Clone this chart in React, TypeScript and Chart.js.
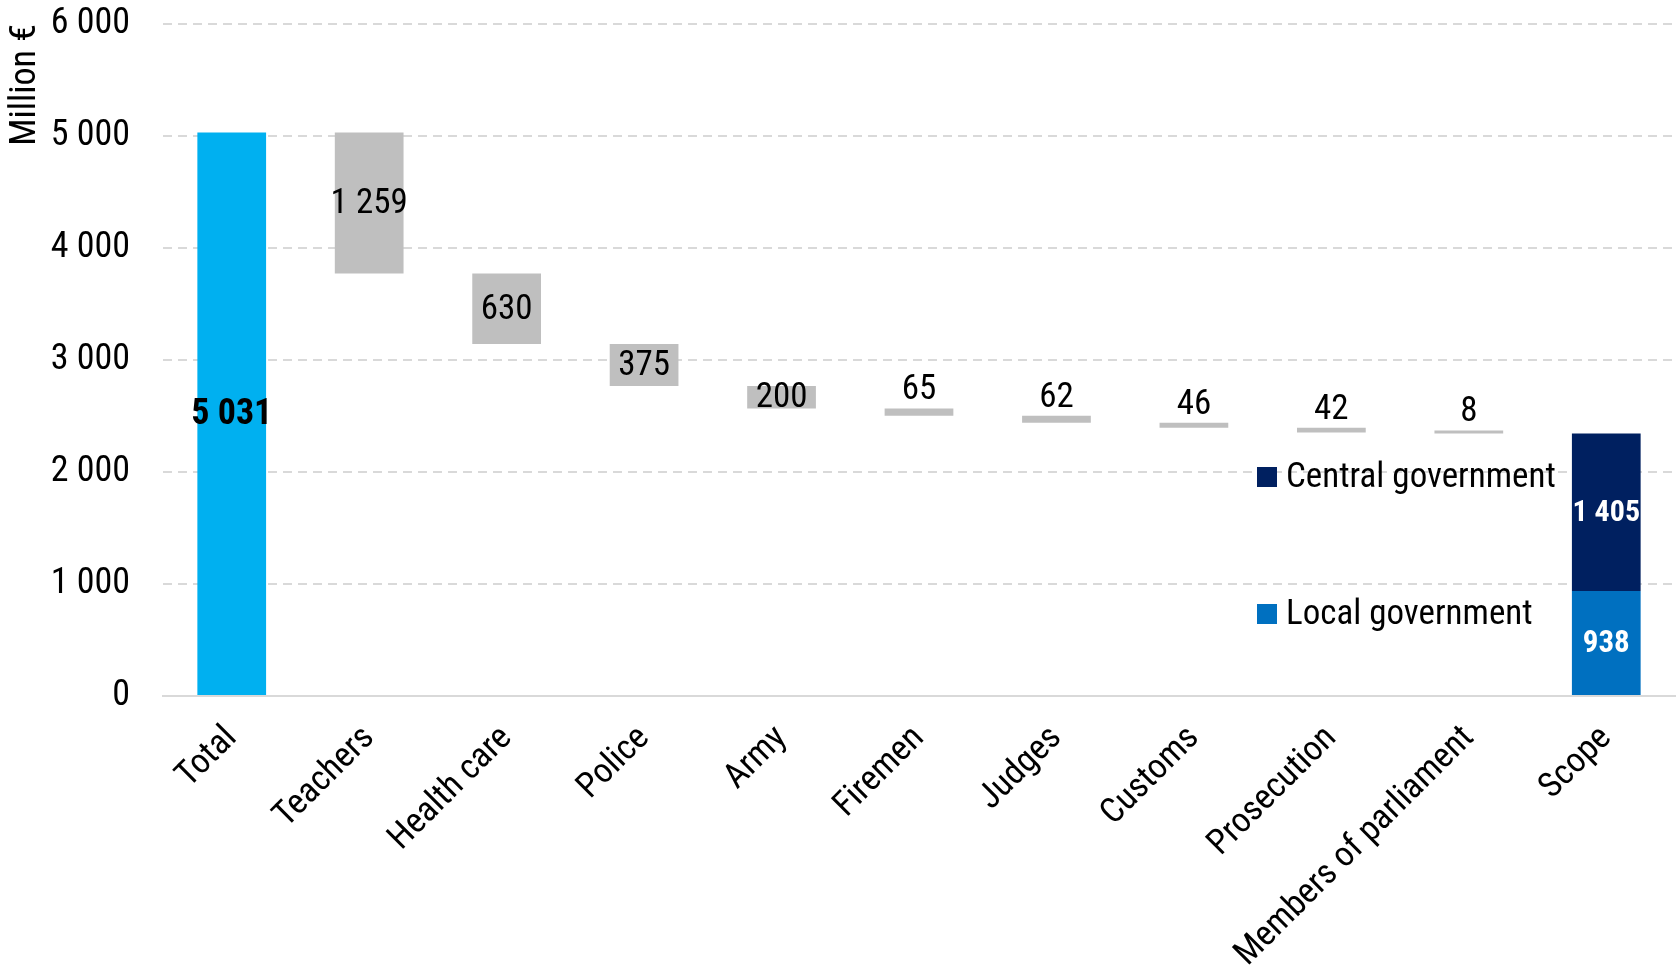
import React, { useEffect, useRef } from 'react';
import { Chart, registerables } from 'chart.js';

Chart.register(...registerables);

// ---------- data ----------
const categories = [
  'Total',
  'Teachers',
  'Health care',
  'Police',
  'Army',
  'Firemen',
  'Judges',
  'Customs',
  'Prosecution',
  'Members of parliament',
  'Scope',
];
const totalValue = 5031;
const reductionValues = [1259, 630, 375, 200, 65, 62, 46, 42, 8];
const localGovernment = 938;
const centralGovernment = 1405;
const yTickValues = [0, 1000, 2000, 3000, 4000, 5000, 6000];
const yAxisTitle = 'Million €';
const legendLabels = ['Central government', 'Local government'];

// ---------- styles ----------
const FONT = "'Liberation Sans Narrow', 'Arial Narrow', 'Roboto Condensed', 'DejaVu Sans Condensed', sans-serif";
const COLOR_TOTAL = '#00B0F0';
const COLOR_GREY = '#BFBFBF';
const COLOR_LOCAL = '#0070C0';
const COLOR_CENTRAL = '#002060';
const GRID = '#D9D9D9';

function fmt(n: number): string {
  return String(n).replace(/\B(?=(\d{3})+(?!\d))/g, ' ');
}

const last = categories.length - 1;
const totalData = categories.map((_, i) => (i === 0 ? [0, totalValue] : null));
const reductionData: (number[] | null)[] = categories.map(() => null);
{
  let running = totalValue;
  reductionValues.forEach((v, k) => {
    reductionData[k + 1] = [running - v, running];
    running -= v;
  });
}
const localData = categories.map((_, i) => (i === last ? [0, localGovernment] : null));
const centralData = categories.map((_, i) =>
  i === last ? [localGovernment, localGovernment + centralGovernment] : null
);

// label values per dataset
const labelValues = [
  categories.map((_, i) => (i === 0 ? totalValue : null)),
  categories.map((_, i) => (i >= 1 && i <= reductionValues.length ? reductionValues[i - 1] : null)),
  categories.map((_, i) => (i === last ? localGovernment : null)),
  categories.map((_, i) => (i === last ? centralGovernment : null)),
];
const labelStyles = [
  { font: `bold 36px ${FONT}`, color: '#000000', insideMin: 0 },
  { font: `35px ${FONT}`, color: '#000000', insideMin: 100 },
  { font: `bold 31px ${FONT}`, color: '#FFFFFF', insideMin: 0 },
  { font: `bold 30px ${FONT}`, color: '#FFFFFF', insideMin: 0 },
];

const labelPlugin = {
  id: 'waterfallLabels',
  afterDatasetsDraw(chart: any) {
    const ctx = chart.ctx;
    chart.data.datasets.forEach((_: any, di: number) => {
      const meta = chart.getDatasetMeta(di);
      const style = labelStyles[di];
      meta.data.forEach((el: any, i: number) => {
        const v = labelValues[di][i];
        if (v == null) return;
        const { x, y, base } = el.getProps(['x', 'y', 'base'], true);
        const top = Math.min(y, base);
        const bottom = Math.max(y, base);
        ctx.save();
        ctx.font = style.font;
        ctx.fillStyle = style.color;
        ctx.textAlign = 'center';
        if (v >= style.insideMin) {
          ctx.textBaseline = 'middle';
          ctx.fillText(fmt(v), x, (top + bottom) / 2 + 1);
        } else {
          ctx.textBaseline = 'alphabetic';
          ctx.fillText(fmt(v), x, top - 9);
        }
        ctx.restore();
      });
    });
  },
};

const legendPlugin = {
  id: 'insideLegend',
  afterDatasetsDraw(chart: any) {
    const { ctx, chartArea } = chart;
    const items = [
      { text: legendLabels[0], color: COLOR_CENTRAL, dy: 453 },
      { text: legendLabels[1], color: COLOR_LOCAL, dy: 590 },
    ];
    const bx = chartArea.left + 1094;
    ctx.save();
    items.forEach((it) => {
      const cy = chartArea.top + it.dy;
      ctx.fillStyle = it.color;
      ctx.fillRect(bx, cy - 10, 20, 20);
      ctx.fillStyle = '#000000';
      ctx.font = `35px ${FONT}`;
      ctx.textAlign = 'left';
      ctx.textBaseline = 'middle';
      ctx.fillText(it.text, bx + 29, cy + 1);
    });
    ctx.restore();
  },
};

export default function App() {
  const canvasRef = useRef<HTMLCanvasElement | null>(null);

  useEffect(() => {
    if (!canvasRef.current) return;
    const barCommon = {
      grouped: false,
      barPercentage: 0.5,
      categoryPercentage: 1.0,
      borderWidth: 0,
    };
    const chart = new Chart(canvasRef.current, {
      type: 'bar',
      data: {
        labels: categories,
        datasets: [
          { ...barCommon, label: 'Total', data: totalData as any, backgroundColor: COLOR_TOTAL },
          { ...barCommon, label: 'Reduction', data: reductionData as any, backgroundColor: COLOR_GREY, minBarLength: 3 },
          { ...barCommon, label: legendLabels[1], data: localData as any, backgroundColor: COLOR_LOCAL },
          { ...barCommon, label: legendLabels[0], data: centralData as any, backgroundColor: COLOR_CENTRAL },
        ],
      },
      options: {
        animation: false,
        responsive: true,
        maintainAspectRatio: false,
        layout: { padding: { top: 24, right: 5, bottom: 0, left: 0 } },
        plugins: {
          legend: { display: false },
          tooltip: { enabled: false },
        },
        scales: {
          x: {
            grid: { display: false, drawTicks: false },
            border: { display: true, color: GRID, width: 2 },
            ticks: {
              color: '#000000',
              font: { family: FONT, size: 35 },
              maxRotation: 45,
              minRotation: 45,
              autoSkip: false,
              padding: 22,
            },
            afterFit(scale: any) {
              scale.height = 270;
              scale.paddingLeft = 0;
              scale.paddingRight = 0;
            },
          },
          y: {
            min: 0,
            max: 6000,
            afterBuildTicks(scale: any) {
              scale.ticks = yTickValues.map((v) => ({ value: v }));
            },
            grid: { color: GRID, lineWidth: 2, drawTicks: false },
            border: { display: false, dash: [9, 6] },
            ticks: {
              color: '#000000',
              font: { family: FONT, size: 36 },
              padding: 33,
              callback: (v: any) => fmt(Number(v)),
            },
            title: {
              display: true,
              text: yAxisTitle,
              align: 'end',
              color: '#000000',
              font: { family: FONT, size: 36 },
              padding: { top: 4, bottom: 0 },
            },
            afterFit(scale: any) {
              scale.width = 163;
              scale.paddingTop = 0;
              scale.paddingBottom = 0;
            },
          },
        },
      } as any,
      plugins: [labelPlugin, legendPlugin],
    });
    return () => chart.destroy();
  }, []);

  return (
    <div style={{ position: 'fixed', left: 0, top: 0, width: 1680, height: 966, background: '#FFFFFF' }}>
      <canvas ref={canvasRef} />
    </div>
  );
}
